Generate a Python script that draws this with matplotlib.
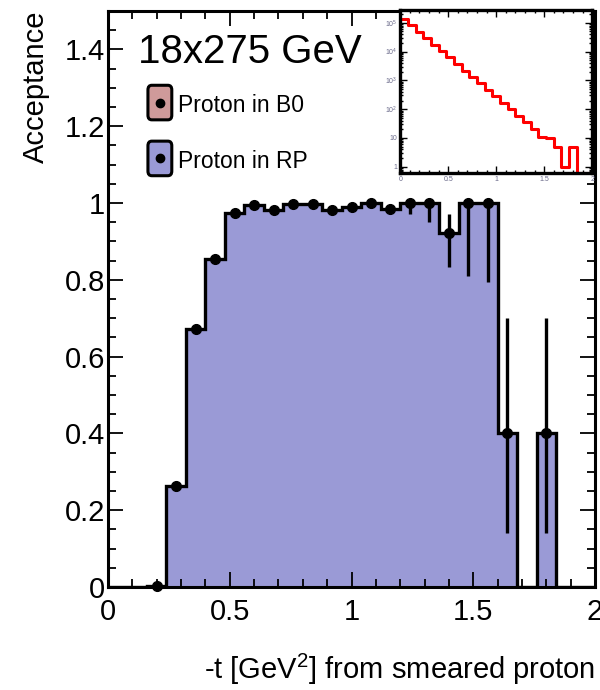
import numpy as np
import matplotlib
matplotlib.use("Agg")
import matplotlib.pyplot as plt
from matplotlib.patches import FancyBboxPatch
from matplotlib.ticker import MultipleLocator, FuncFormatter, LogLocator

plt.rcParams["font.family"] = ["Liberation Sans", "DejaVu Sans"]
plt.rcParams["mathtext.fontset"] = "custom"
plt.rcParams["mathtext.rm"] = "Liberation Sans"

# 25 bins of width 0.08 between 0 and 2
bin_edges = np.linspace(0.0, 2.0, 26)

# acceptance for the protons reaching the Roman pots
acceptance = [0.0, 0.0, 0.003, 0.262, 0.673, 0.855, 0.975, 0.995, 0.983, 0.998,
              0.998, 0.983, 0.99, 1.0, 0.985, 1.0, 1.0, 0.922, 1.0, 1.0,
              0.4, 0.0, 0.4, 0.0, 0.0]
err_low = [0, 0, 0.0, 0.012, 0.012, 0.01, 0.006, 0.004, 0.005, 0.003,
           0.003, 0.005, 0.006, 0.008, 0.012, 0.03, 0.05, 0.09, 0.19, 0.205,
           0.26, 0, 0.26, 0, 0]
err_high = [0, 0, 0.005, 0.012, 0.012, 0.01, 0.006, 0.002, 0.005, 0.001,
            0.001, 0.005, 0.004, 0.0, 0.008, 0.0, 0.0, 0.05, 0.0, 0.0,
            0.3, 0, 0.3, 0, 0]
has_point = [False, False, True, True, True, True, True, True, True, True,
             True, True, True, True, True, True, True, True, True, True,
             True, False, True, False, False]

# generated counts per bin (inset, log scale)
generated = [138000, 83000, 49000, 29500, 17500, 10500, 6300, 3700, 2200, 1330,
             790, 475, 283, 170, 100, 60, 36, 21, 11, 10,
             5, 1, 5, 0, 0]

legend_labels = ["Proton in B0", "Proton in RP"]
legend_colors = ["#cf9a9a", "#9a9ad6"]
title = "18x275 GeV"

RP_COLOR = "#9a9ad6"

fig = plt.figure(figsize=(6.0, 6.9), dpi=100)
ax = fig.add_axes([0.18, 0.1493, 0.8117, 0.8348])

acc = np.array(acceptance)
ax.stairs(acc, bin_edges, fill=True, facecolor=RP_COLOR, edgecolor="none")
ax.stairs(acc, bin_edges, color="black", lw=2.4)

centers = 0.5 * (bin_edges[:-1] + bin_edges[1:])
mask = np.array(has_point)
ax.errorbar(centers[mask], acc[mask],
            yerr=[np.array(err_low)[mask], np.array(err_high)[mask]],
            fmt="o", color="black", ms=7, elinewidth=2.4, capsize=0,
            clip_on=False, zorder=5)

ax.set_xlim(0, 2)
ax.set_ylim(0, 1.5)
ax.xaxis.set_major_locator(MultipleLocator(0.5))
ax.xaxis.set_minor_locator(MultipleLocator(0.1))
ax.yaxis.set_major_locator(MultipleLocator(0.2))
ax.yaxis.set_minor_locator(MultipleLocator(0.05))
fmt = FuncFormatter(lambda v, p: "%g" % round(v, 3))
ax.xaxis.set_major_formatter(fmt)
ax.yaxis.set_major_formatter(fmt)
ax.tick_params(which="both", direction="in", top=True, right=True, width=1.3)
ax.tick_params(which="major", length=11, labelsize=21)
ax.tick_params(which="minor", length=5.5)
ax.tick_params(axis="y", pad=2)
ax.tick_params(axis="x", pad=8)
for s in ax.spines.values():
    s.set_linewidth(2.2)

ax.set_ylabel("Acceptance", fontsize=21, loc="top")
ax.yaxis.set_label_coords(-0.12, 1.0)
ax.set_xlabel("-t [GeV$^{2}$] from smeared proton", fontsize=21, loc="right")
ax.xaxis.set_label_coords(1.0, -0.112)

ax.text(0.062, 0.91, title, transform=ax.transAxes, fontsize=29,
        ha="left", va="baseline")

# legend drawn as rounded boxes with a marker
box_bottoms = [0.807, 0.710]
for lab, col, yb in zip(legend_labels, legend_colors, box_bottoms):
    box = FancyBboxPatch((0.082, yb + 0.004), 0.049, 0.06,
                         boxstyle="round,pad=0.0,rounding_size=0.008",
                         transform=ax.transAxes, facecolor=col,
                         edgecolor="black", lw=2.2, zorder=6)
    ax.add_patch(box)
    ax.plot([0.1065], [yb + 0.034], "o", color="black", ms=6,
            transform=ax.transAxes, zorder=7)
    ax.text(0.143, yb + 0.018, lab, transform=ax.transAxes, fontsize=16.5,
            ha="left", va="baseline", zorder=7)

# inset: generated distribution
ins = fig.add_axes([0.667, 0.749, 0.32, 0.236])
ymin = 0.6
gen = np.clip(np.array(generated, dtype=float), ymin, None)
ins.step(bin_edges, np.append(gen, gen[-1]), where="post", color="red", lw=2.2)
ins.set_yscale("log")
ins.set_xlim(0, 2)
ins.set_ylim(ymin, 2.7e5)
ins.xaxis.set_major_locator(MultipleLocator(0.5))
ins.xaxis.set_minor_locator(MultipleLocator(0.1))
ins.yaxis.set_major_locator(LogLocator(base=10, numticks=10))
ins.yaxis.set_minor_locator(LogLocator(base=10, subs=np.arange(2, 10), numticks=10))


def log_label(v, p):
    if v < 1.5:
        return "1"
    if v < 15:
        return "10"
    return "$10^{%d}$" % round(np.log10(v))


ins.yaxis.set_major_formatter(FuncFormatter(log_label))
ins.xaxis.set_major_formatter(fmt)
ins.tick_params(which="both", direction="in", top=True, right=True, width=1.0,
                labelsize=5, colors="black", labelcolor="#6a6a8a", pad=2)
ins.tick_params(which="major", length=5)
ins.tick_params(which="minor", length=2.5)
for s in ins.spines.values():
    s.set_linewidth(2.4)

fig.savefig("out.png", dpi=100)
